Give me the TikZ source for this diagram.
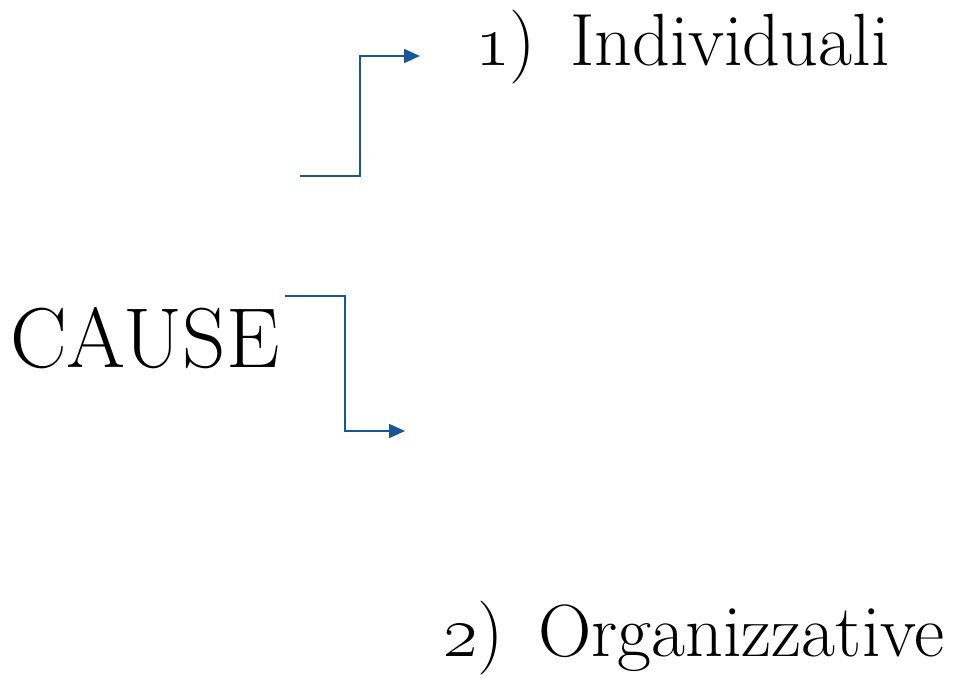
\RequirePackage{fix-cm}
\documentclass[tikz,border=0pt]{standalone}
\usetikzlibrary{arrows.meta}
\definecolor{linkblue}{RGB}{24,86,155}
\begin{document}
\begin{tikzpicture}[x=1pt,y=-1pt,
  conn/.style={draw=linkblue,line width=1.8pt,-{Triangle[length=16pt,width=14pt]}},
  lbl/.style={inner sep=0pt,anchor=base west,font=\fontsize{74}{80}\selectfont}]
\useasboundingbox (0,0) rectangle (965,675);
\node[inner sep=0pt,anchor=base west,font=\fontsize{85}{100}\selectfont] (cause) at (10,367) {CAUSE};
\node[lbl] (ind) at (475,65) {\oldstylenums{1})\hspace{34pt}Individuali};
\node[lbl] (org) at (443,656) {\oldstylenums{2})\hspace{34pt}Organizzative};
\coordinate (s1) at (300,176);
\coordinate (e1) at (420,56);
\coordinate (s2) at (285,296);
\coordinate (e2) at (405,431);
\draw[conn] (s1) -- ++(60,0) |- (e1);
\draw[conn] (s2) -- ++(60,0) |- (e2);
\end{tikzpicture}
\end{document}
